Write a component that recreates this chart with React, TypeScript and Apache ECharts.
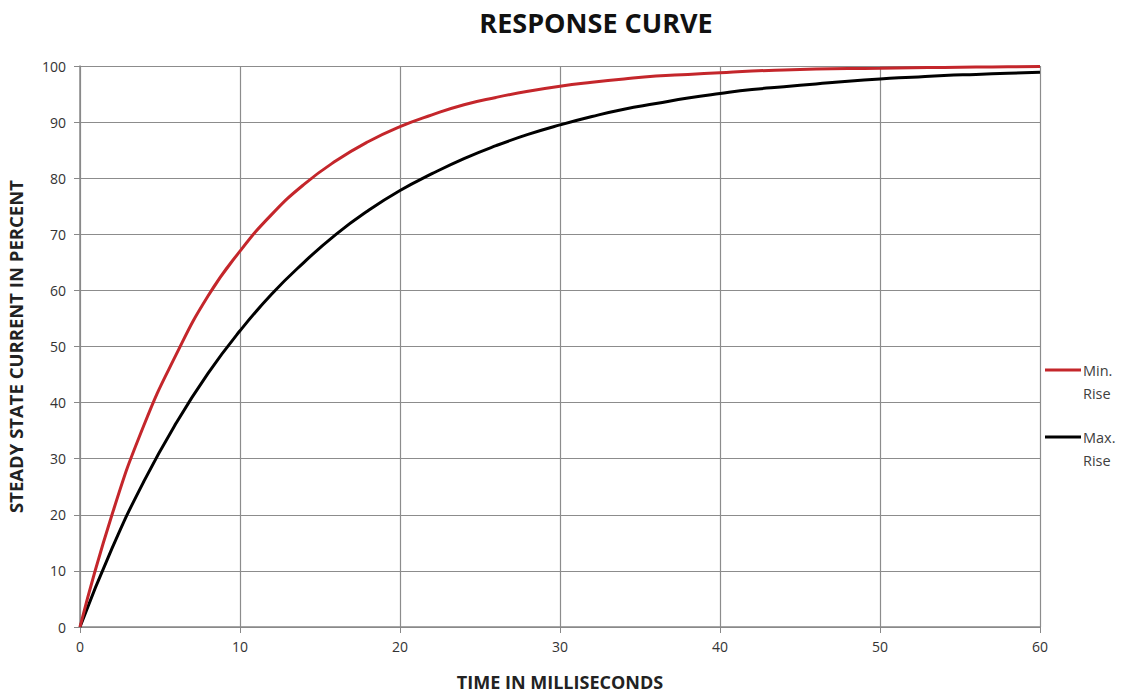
import React, { useEffect, useRef } from "react";
import * as echarts from "echarts";

const timeMs = [0, 2, 4, 6, 8, 10, 12, 14, 16, 18, 20, 22, 24, 26, 28, 30, 32, 34, 36, 38, 40, 42, 44, 46, 48, 50, 52, 54, 56, 58, 60];
const minRise = [0, 20, 36, 48.5, 59, 67, 73.6, 78.9, 83.1, 86.5, 89.2, 91.3, 93.1, 94.4, 95.5, 96.4, 97.1, 97.7, 98.2, 98.5, 98.8, 99.1, 99.3, 99.45, 99.55, 99.6, 99.7, 99.75, 99.8, 99.85, 99.9];
const maxRise = [0, 14, 26, 36.3, 45.2, 52.8, 59.4, 65, 70, 74.2, 77.8, 80.8, 83.5, 85.8, 87.8, 89.5, 91, 92.3, 93.3, 94.3, 95.1, 95.8, 96.3, 96.8, 97.3, 97.7, 98, 98.3, 98.5, 98.7, 98.9];
const seriesNames = ["Min. Rise", "Max. Rise"];
const seriesColors = ["#c4262b", "#000000"];

const FONT = "'Open Sans', 'Noto Sans', sans-serif";

export default function App() {
  const ref = useRef<HTMLDivElement>(null);
  useEffect(() => {
    document.body.style.margin = "0";
    const chart = echarts.init(ref.current!, null, { renderer: "svg" });
    const pairs = (ys: number[]) => timeMs.map((t, i) => [t, ys[i]]);
    const legendGraphics: any[] = [];
    seriesNames.forEach((name, i) => {
      const y = 370 + i * 67;
      const [l1, l2] = name.split(" ");
      legendGraphics.push(
        { type: "line", shape: { x1: 1045, y1: y, x2: 1081, y2: y }, style: { stroke: seriesColors[i], lineWidth: 3 } },
        { type: "text", x: 1083, y, style: { text: l1, fill: "#404040", font: `14.5px ${FONT}`, verticalAlign: "middle" } },
        { type: "text", x: 1083, y: y + 23, style: { text: l2, fill: "#404040", font: `14.5px ${FONT}`, verticalAlign: "middle" } }
      );
    });
    chart.setOption({
      animation: false,
      backgroundColor: "#fff",
      title: {
        text: "RESPONSE CURVE",
        left: 591,
        textAlign: "center",
        top: 4,
        textStyle: { fontFamily: FONT, fontWeight: "bold", fontSize: 27, color: "#111" },
      },
      graphic: legendGraphics,
      grid: { left: 80, right: 85, top: 66, bottom: 67, containLabel: false, outerBoundsMode: "none" },
      xAxis: {
        type: "value",
        min: 0,
        max: 60,
        interval: 10,
        name: "TIME IN MILLISECONDS",
        nameLocation: "middle",
        nameGap: 46,
        nameTextStyle: { fontFamily: FONT, fontWeight: "bold", fontSize: 18, color: "#222" },
        axisLine: { show: true, lineStyle: { color: "#888", width: 1.5 } },
        axisTick: { show: true, length: 6, lineStyle: { color: "#888" } },
        axisLabel: { fontFamily: FONT, fontSize: 14, color: "#333", margin: 12 },
        splitLine: { show: true, lineStyle: { color: "#8c8c8c", width: 1.2 } },
      },
      yAxis: {
        type: "value",
        min: 0,
        max: 100,
        interval: 10,
        name: "STEADY STATE CURRENT IN PERCENT",
        nameLocation: "middle",
        nameGap: 55,
        nameTextStyle: { fontFamily: FONT, fontWeight: "bold", fontSize: 18.5, color: "#222" },
        axisLine: { show: true, lineStyle: { color: "#888", width: 1.5 } },
        axisTick: { show: true, length: 6, lineStyle: { color: "#888" } },
        axisLabel: { fontFamily: FONT, fontSize: 14, color: "#333", margin: 14 },
        splitLine: { show: true, lineStyle: { color: "#8c8c8c", width: 1.2 } },
      },
      series: [
        {
          name: seriesNames[0],
          type: "line",
          data: pairs(minRise),
          smooth: true,
          showSymbol: false,
          lineStyle: { color: seriesColors[0], width: 3 },
          itemStyle: { color: seriesColors[0] },
          z: 3,
        },
        {
          name: seriesNames[1],
          type: "line",
          data: pairs(maxRise),
          smooth: true,
          showSymbol: false,
          lineStyle: { color: seriesColors[1], width: 3 },
          itemStyle: { color: seriesColors[1] },
          z: 2,
        },
      ],
    });
    return () => chart.dispose();
  }, []);
  return <div ref={ref} style={{ width: 1125, height: 694 }} />;
}
